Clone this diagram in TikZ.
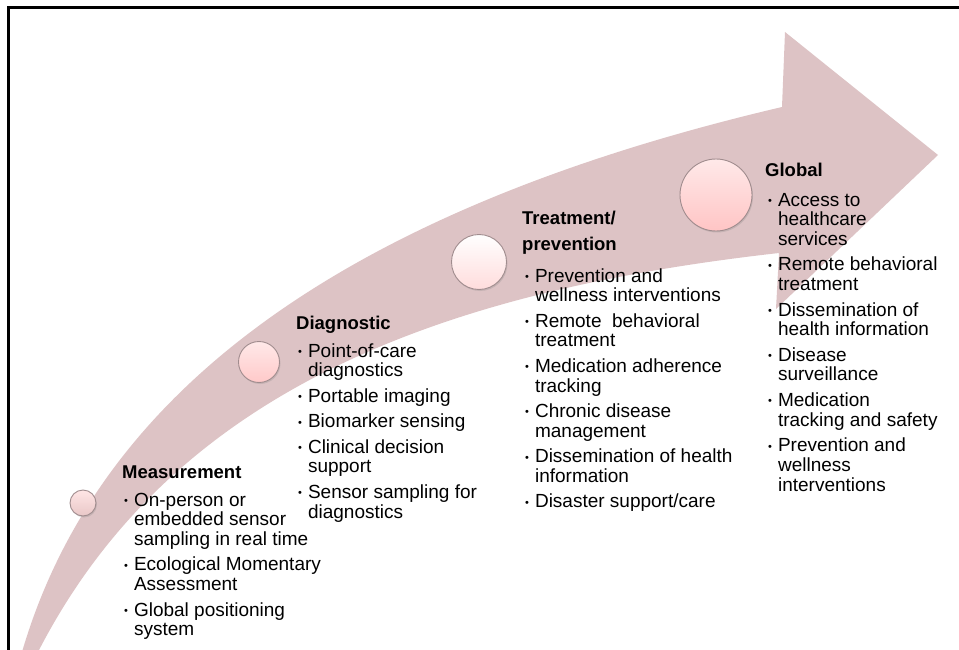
\documentclass[tikz,border=0pt]{standalone}
\usepackage{fontspec}
\setmainfont{Liberation Sans}
\usetikzlibrary{positioning, shadows}
\definecolor{pfeil}{RGB}{221,195,197}
\definecolor{rand}{RGB}{160,140,142}
\newcommand\bul{\raisebox{1.6pt}{\fontsize{11}{11}\selectfont\textbullet}}
\tikzset{
    kreis/.style  = {circle, draw=rand, line width=0.9pt, inner sep=0pt,
                     drop shadow={opacity=0.25, shadow xshift=1pt, shadow yshift=-1.5pt}},
    titel/.style  = {font=\fontsize{18.5}{22}\selectfont\bfseries, anchor=base west, inner sep=0pt},
    liste/.style  = {font=\fontsize{19}{19.7}\selectfont, anchor=base west, inner sep=0pt}
}
\newcommand\lgap{\\[5.8pt]}
\begin{document}
\begin{tikzpicture}[x=1pt, y=-1pt]
    \useasboundingbox (0,0) rectangle (959,650);

    % Rahmen (nur oben und links)
    \draw[line width=3pt] (8,652) -- (8,8) -- (960,8);

    % gebogener Pfeil
    \fill[pfeil] (22,652) .. controls (90,420) and (300,220) .. (782,107)
        -- (785,32) -- (938,155) -- (776,309) -- (779,253)
        .. controls (450,290) and (175,385) .. (38,652) -- cycle;

    % Stufen-Kreise
    \node[kreis, minimum size=26pt, top color=pink!40!white, bottom color=pink!75!gray!70] (k-mess) at (83,503) {};
    \node[kreis, minimum size=41pt, top color=pink!35!white, bottom color=pink!90!red!65] (k-diag) at (259,362) {};
    \node[kreis, minimum size=55pt, top color=white, bottom color=pink!55!white] (k-beh) at (479,262) {};
    \node[kreis, minimum size=72pt, top color=pink!35!white, bottom color=pink!90!red!70] (k-glob) at (716,195) {};

    % Measurement
    \node[titel] (t-mess) at (122,478) {Measurement};
    \node[liste] (l-mess) at (124,506) {\begin{tabular}[t]{@{}l@{\hspace{6pt}}l@{}}
        \bul & On-person or\\
             & embedded sensor\\
             & sampling in real time\lgap
        \bul & Ecological Momentary\\
             & Assessment\lgap
        \bul & Global positioning\\
             & system
    \end{tabular}};

    % Diagnostic
    \node[titel] (t-diag) at (296,329) {Diagnostic};
    \node[liste] (l-diag) at (298,357) {\begin{tabular}[t]{@{}l@{\hspace{6pt}}l@{}}
        \bul & Point-of-care\\
             & diagnostics\lgap
        \bul & Portable imaging\lgap
        \bul & Biomarker sensing\lgap
        \bul & Clinical decision\\
             & support\lgap
        \bul & Sensor sampling for\\
             & diagnostics
    \end{tabular}};

    % Treatment/prevention
    \node[titel] (t-beh1) at (522,224) {Treatment/};
    \node[titel] (t-beh2) at (522,251) {prevention};
    \node[liste] (l-beh) at (525,282) {\begin{tabular}[t]{@{}l@{\hspace{6pt}}l@{}}
        \bul & Prevention and\\
             & wellness interventions\lgap
        \bul & Remote~ behavioral\\
             & treatment\lgap
        \bul & Medication adherence\\
             & tracking\lgap
        \bul & Chronic disease\\
             & management\lgap
        \bul & Dissemination of health\\
             & information\lgap
        \bul & Disaster support/care
    \end{tabular}};

    % Global
    \node[titel] (t-glob) at (765,176) {Global};
    \node[liste] (l-glob) at (768,206) {\begin{tabular}[t]{@{}l@{\hspace{6pt}}l@{}}
        \bul & Access to\\
             & healthcare\\
             & services\lgap
        \bul & Remote behavioral\\
             & treatment\lgap
        \bul & Dissemination of\\
             & health information\lgap
        \bul & Disease\\
             & surveillance\lgap
        \bul & Medication\\
             & tracking and safety\lgap
        \bul & Prevention and\\
             & wellness\\
             & interventions
    \end{tabular}};
\end{tikzpicture}
\end{document}
